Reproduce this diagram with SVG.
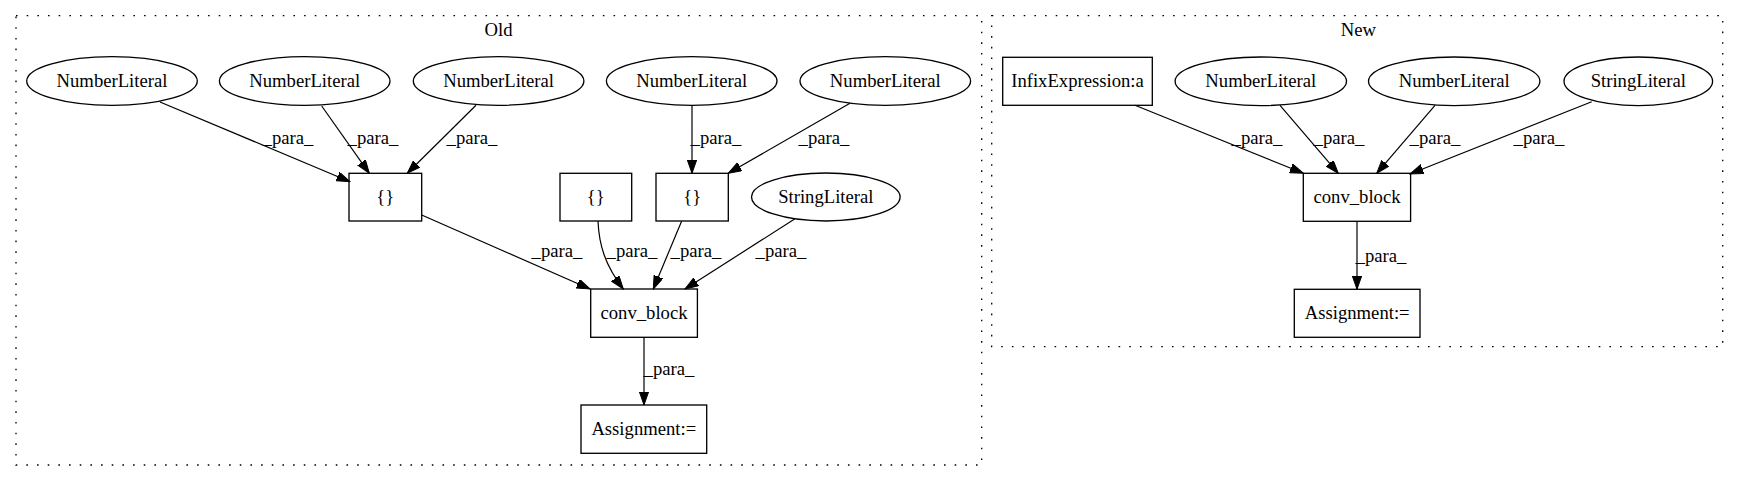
<svg xmlns="http://www.w3.org/2000/svg" width="1740" height="480" viewBox="0 0 1740 480">
<defs>
<style>
text{font-family:"Liberation Serif","Times New Roman",Times,serif;font-size:18.67px;fill:#000;text-anchor:middle}
.cl{fill:none;stroke:#000;stroke-width:1.33;stroke-dasharray:1.6,9.07}
.nd{fill:none;stroke:#000;stroke-width:1.33}
.ed{fill:none;stroke:#000;stroke-width:1.2;marker-end:url(#ah)}
</style>
<marker id="ah" markerUnits="userSpaceOnUse" markerWidth="14" markerHeight="10" refX="13.3" refY="4.67" orient="auto" viewBox="0 0 14 10">
<path d="M0,0 L13.3,4.67 L0,9.33 z" fill="#000" stroke="#000" stroke-width="1"/>
</marker>
</defs>
<rect width="1740" height="480" fill="#fff"/>

<g id="cluster_old">
<rect class="cl" x="16" y="15.7" width="965.7" height="449.3"/>
<text x="498.5" y="36">Old</text>
</g>
<g id="cluster_new">
<rect class="cl" x="991.7" y="15.7" width="731" height="331"/>
<text x="1358.3" y="36">New</text>
</g>

<g id="connectors">
<path class="ed" d="M160,102 L350,181.7"/>
<text x="288" y="144">_para_</text>
<path class="ed" d="M321.7,106 L369.3,173.3"/>
<text x="373" y="144">_para_</text>
<path class="ed" d="M476,105.3 L407.3,173.3"/>
<text x="472" y="144">_para_</text>
<path class="ed" d="M692,105.3 L692,173.3"/>
<text x="716" y="144">_para_</text>
<path class="ed" d="M850,103.3 L728.3,173.3"/>
<text x="824" y="144">_para_</text>
<path class="ed" d="M421.7,215 L590,289"/>
<text x="557" y="257">_para_</text>
<path class="ed" d="M598,221 C599,245 605,265 623.3,289"/>
<text x="632" y="257">_para_</text>
<path class="ed" d="M681.7,221 L653.3,289"/>
<text x="696" y="257">_para_</text>
<path class="ed" d="M795,218.8 L685,289"/>
<text x="781" y="257">_para_</text>
<path class="ed" d="M644,337.3 L644,405"/>
<text x="669" y="375">_para_</text>

<path class="ed" d="M1135,105.3 L1303.3,173.3"/>
<text x="1257" y="144">_para_</text>
<path class="ed" d="M1280,105.3 L1338.3,173.3"/>
<text x="1339" y="144">_para_</text>
<path class="ed" d="M1435,105.3 L1376.7,173.3"/>
<text x="1435" y="144">_para_</text>
<path class="ed" d="M1591.7,101.7 L1410,174"/>
<text x="1539" y="144">_para_</text>
<path class="ed" d="M1357,221.3 L1357,289.3"/>
<text x="1381" y="262">_para_</text>
</g>

<g id="old_nl1"><ellipse class="nd" cx="112" cy="81" rx="85.3" ry="24.3"/><text x="112" y="87">NumberLiteral</text></g>
<g id="old_nl2"><ellipse class="nd" cx="304.7" cy="81" rx="85.3" ry="24.3"/><text x="304.7" y="87">NumberLiteral</text></g>
<g id="old_nl3"><ellipse class="nd" cx="498.6" cy="81" rx="85.3" ry="24.3"/><text x="498.6" y="87">NumberLiteral</text></g>
<g id="old_nl4"><ellipse class="nd" cx="691.7" cy="81" rx="85.3" ry="24.3"/><text x="691.7" y="87">NumberLiteral</text></g>
<g id="old_nl5"><ellipse class="nd" cx="885.3" cy="81" rx="85.3" ry="24.3"/><text x="885.3" y="87">NumberLiteral</text></g>
<g id="old_arr1"><rect class="nd" x="349" y="173.3" width="72.7" height="47.7"/><text x="385.3" y="203">{}</text></g>
<g id="old_arr2"><rect class="nd" x="560" y="173.3" width="71.7" height="47.7"/><text x="595.8" y="203">{}</text></g>
<g id="old_arr3"><rect class="nd" x="656" y="173.3" width="72.3" height="47.7"/><text x="692.2" y="203">{}</text></g>
<g id="old_sl"><ellipse class="nd" cx="825.8" cy="197" rx="74.3" ry="24"/><text x="825.8" y="203">StringLiteral</text></g>
<g id="old_conv"><rect class="nd" x="590.7" y="289" width="106.7" height="48.3"/><text x="644" y="319">conv_block</text></g>
<g id="old_assign"><rect class="nd" x="581" y="405" width="125.7" height="48.3"/><text x="643.8" y="435">Assignment:=</text></g>

<g id="new_infix"><rect class="nd" x="1002.7" y="57.3" width="149.6" height="48"/><text x="1077.5" y="87.3">InfixExpression:a</text></g>
<g id="new_nl1"><ellipse class="nd" cx="1260.8" cy="81.3" rx="85.7" ry="24.3"/><text x="1260.8" y="87.3">NumberLiteral</text></g>
<g id="new_nl2"><ellipse class="nd" cx="1454.2" cy="81.3" rx="85.7" ry="24.3"/><text x="1454.2" y="87.3">NumberLiteral</text></g>
<g id="new_sl"><ellipse class="nd" cx="1638.3" cy="81.3" rx="74.3" ry="24.3"/><text x="1638.3" y="87.3">StringLiteral</text></g>
<g id="new_conv"><rect class="nd" x="1303.3" y="173.3" width="107.3" height="48"/><text x="1357" y="203.3">conv_block</text></g>
<g id="new_assign"><rect class="nd" x="1294.3" y="289.3" width="125.7" height="48"/><text x="1357.2" y="319.3">Assignment:=</text></g>
</svg>
